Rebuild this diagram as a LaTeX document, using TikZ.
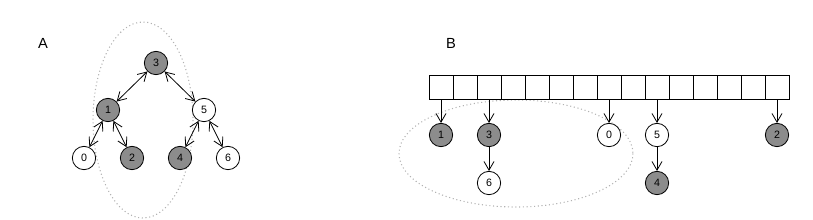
\documentclass[tikz,border=0pt]{standalone}
\usepackage{fontspec}
\setmainfont{Liberation Sans}
\usetikzlibrary{arrows.meta}
\definecolor{nodegray}{HTML}{8C8C8C}
\begin{document}
\begin{tikzpicture}[x=0.75pt,y=-0.75pt,
  vtx/.style={circle,draw=black,line width=0.6pt,minimum size=17.5pt,inner sep=0pt,font=\fontsize{8pt}{9pt}\selectfont},
  dark/.style={vtx,fill=nodegray},
  light/.style={vtx,fill=white},
  cell/.style={draw=black,line width=0.75pt,minimum width=18pt,minimum height=18pt,inner sep=0pt},
  tip/.style={line width=0.6pt,-{Straight Barb[length=6.5pt,width=7.5pt,line width=0.6pt]}},
  dtip/.style={line width=0.6pt,{Straight Barb[length=6.5pt,width=7.5pt,line width=0.6pt]}-{Straight Barb[length=6.5pt,width=7.5pt,line width=0.6pt]}},
  grp/.style={draw=gray!60,line width=0.8pt,dotted},
  lbl/.style={font=\fontsize{11pt}{13pt}\selectfont,inner sep=0pt}]
\useasboundingbox (0,0) rectangle (813,219);
% Panel A
\node[lbl] (la) at (43,43) {A};
\draw[grp] (143,120) ellipse [x radius=50,y radius=98];
\node[dark] (a3) at (156,63) {3};
\node[dark] (a1) at (108,110) {1};
\node[light] (a5) at (204,110) {5};
\node[light] (a0) at (84,158) {0};
\node[dark] (a2) at (132,158) {2};
\node[dark] (a4) at (180,158) {4};
\node[light] (a6) at (228,158) {6};
\draw[dtip] (a3) -- (a1);
\draw[dtip] (a3) -- (a5);
\draw[dtip] (a1) -- (a0);
\draw[dtip] (a1) -- (a2);
\draw[dtip] (a5) -- (a4);
\draw[dtip] (a5) -- (a6);
% Panel B
\node[lbl] (lb) at (451,43) {B};
\draw[grp] (516,153.5) ellipse [x radius=117,y radius=53.5];
\foreach \i in {0,...,14} {
  \node[cell] (c\i) at (441+24*\i,87) {};
}
\node[dark] (b1) at (441,135) {1};
\node[dark] (b3) at (489,135) {3};
\node[light] (b6) at (489,183) {6};
\node[light] (b0) at (609,135) {0};
\node[light] (b5) at (657,135) {5};
\node[dark] (b4) at (657,183) {4};
\node[dark] (b2) at (777,135) {2};
\draw[tip] (c0.south) -- (b1);
\draw[tip] (c2.south) -- (b3);
\draw[tip] (b3) -- (b6);
\draw[tip] (c7.south) -- (b0);
\draw[tip] (c9.south) -- (b5);
\draw[tip] (b5) -- (b4);
\draw[tip] (c14.south) -- (b2);
\end{tikzpicture}
\end{document}
